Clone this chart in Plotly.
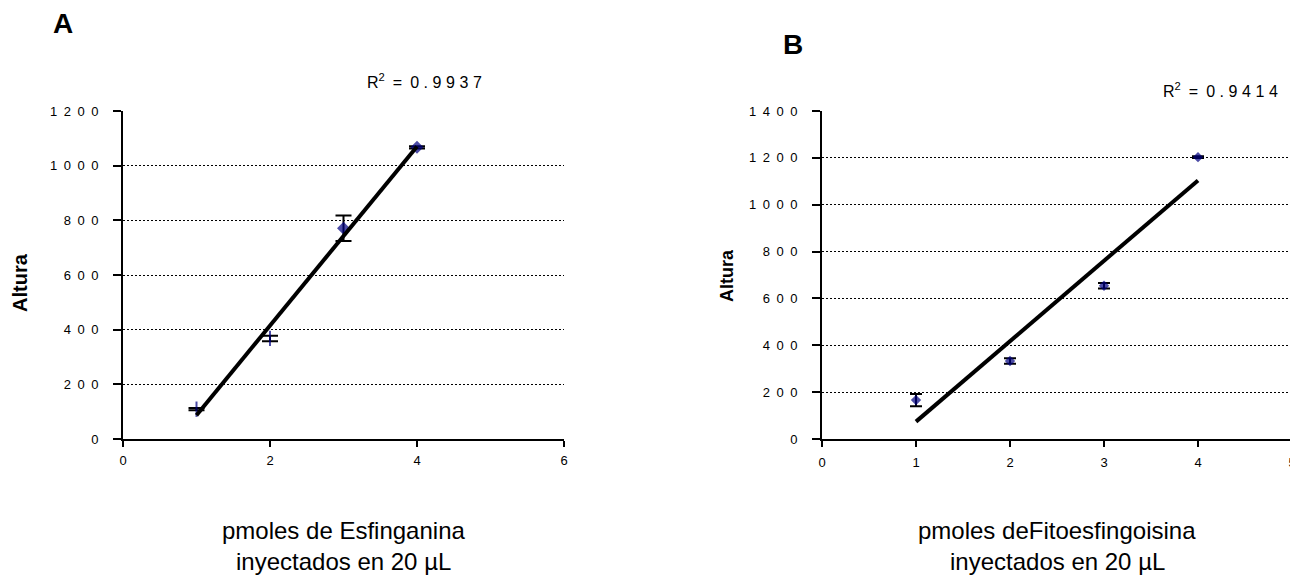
import numpy as np
import plotly.graph_objects as go

# Panel A data
a_x = [1, 2, 3, 4]
a_y = [109, 368, 771, 1067]
a_err = [4, 10, 47, 4]
a_r2 = "0.9937"
a_xticks = [0, 2, 4, 6]
a_yticks = [0, 200, 400, 600, 800, 1000, 1200]

# Panel B data
b_x = [1, 2, 3, 4]
b_y = [166, 333, 654, 1203]
b_err = [26, 12, 12, 4]
b_r2 = "0.9414"
b_xticks = [0, 1, 2, 3, 4, 5]
b_yticks = [0, 200, 400, 600, 800, 1000, 1200, 1400]

# the page body has an 8px default margin; the figure is sized to fill the
# rest of the 1298x575 window and screen positions are mapped through OFF
OFF = 8
W, H = 1298 - OFF, 575 - OFF
NAVY = "#000080"
FONT = "Liberation Sans, Arial, sans-serif"


def spaced(v, sep="\u2002"):
    return sep.join(str(v))


def px(x):
    return (x - OFF) / W


def py(y):
    return 1 - (y - OFF) / H


fig = go.Figure()

for xs, ys, errs, xa, ya, symbols, sizes, lw, capw in [
    (a_x, a_y, a_err, "x", "y", ["line-ns", "line-ns", "diamond", "diamond"],
     [11, 11, 10, 10], [2, 2, 0, 0], 8),
    (b_x, b_y, b_err, "x2", "y2", ["diamond"] * 4, [8, 8, 8, 8], [0] * 4, 6),
]:
    fig.add_trace(go.Scatter(
        x=xs, y=ys, mode="markers", xaxis=xa, yaxis=ya,
        marker=dict(symbol=symbols, size=sizes, color=NAVY,
                    line=dict(color=NAVY, width=lw)),
        error_y=dict(type="data", array=errs, visible=True,
                     color="black", thickness=2, width=capw),
        showlegend=False, hoverinfo="skip",
    ))
    slope, icpt = np.polyfit(xs, ys, 1)
    lx = np.array([min(xs), max(xs)])
    fig.add_trace(go.Scatter(
        x=lx, y=slope * lx + icpt, mode="lines", xaxis=xa, yaxis=ya,
        line=dict(color="black", width=4),
        showlegend=False, hoverinfo="skip",
    ))

axis_common = dict(
    showline=True, linecolor="black", linewidth=2, mirror=False,
    ticks="outside", tickcolor="black", tickwidth=2,
    zeroline=False, fixedrange=True, automargin=False,
)
grid = dict(showgrid=True, gridcolor="black", gridwidth=1, griddash="2px,2px")

fig.update_layout(
    width=W, height=H,
    margin=dict(l=0, r=0, t=0, b=0, autoexpand=False),
    paper_bgcolor="white", plot_bgcolor="white",
    font=dict(family=FONT, color="black"),
    xaxis=dict(domain=[px(123), px(564)], range=[0, 6], tickvals=a_xticks,
               ticktext=[str(v) for v in a_xticks], showgrid=False, ticklen=6,
               tickfont=dict(size=13), ticklabelstandoff=2, anchor="y",
               **axis_common),
    yaxis=dict(domain=[py(439), py(111)], range=[0, 1200], tickvals=a_yticks,
               ticktext=[spaced(v) for v in a_yticks], ticklen=8,
               tickfont=dict(size=13), ticklabelstandoff=12, anchor="x",
               **grid, **axis_common),
    xaxis2=dict(domain=[px(822), px(1292)], range=[0, 5], tickvals=b_xticks,
                ticktext=[str(v) for v in b_xticks], showgrid=False, ticklen=6,
                tickfont=dict(size=13), ticklabelstandoff=4, anchor="y2",
                **axis_common),
    yaxis2=dict(domain=[py(439), py(111)], range=[0, 1400], tickvals=b_yticks,
                ticktext=[spaced(v) for v in b_yticks], ticklen=8,
                tickfont=dict(size=13), ticklabelstandoff=12, anchor="x2",
                **grid, **axis_common),
)


def ann(text, x, y, size, bold=False, angle=0):
    if bold:
        text = "<b>" + text + "</b>"
    fig.add_annotation(text=text, x=px(x), y=py(y), xref="paper", yref="paper",
                       showarrow=False, textangle=angle, xanchor="center",
                       yanchor="middle",
                       font=dict(size=size, family=FONT, color="black"))


def r2_label(val):
    return "R<sup>2</sup>\u2002=\u2002" + spaced(val, "\u2009\u200a")


ann("A", 63, 23, 28, bold=True)
ann("B", 793, 45, 28, bold=True)
ann("Altura", 20, 283, 20, bold=True, angle=-90)
ann("Altura", 727, 276, 18, bold=True, angle=-90)
ann(r2_label(a_r2), 424, 81, 16)
ann(r2_label(b_r2), 1220, 90, 16)
ann("pmoles de Esfinganina", 343.5, 530, 24)
ann("inyectados en 20 \u00b5L", 343.5, 561, 24)
ann("pmoles deFitoesfingoisina", 1057, 530, 24)
ann("inyectados en 20 \u00b5L", 1057, 561, 24)

fig.write_html("out.html")
